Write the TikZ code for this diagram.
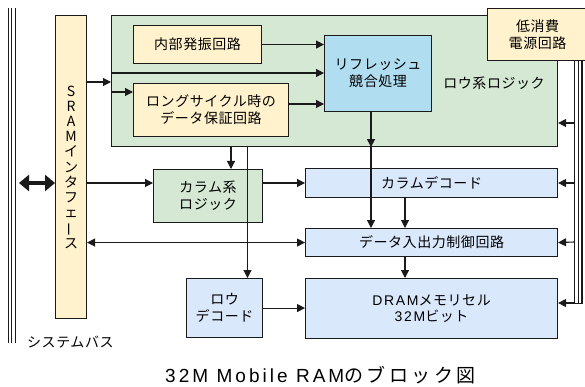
\documentclass[tikz,border=0pt]{standalone}
\usepackage{fontspec}
\setmainfont{Noto Sans CJK JP}[LetterSpace=4]
\newfontfamily\titlefont{Noto Sans CJK JP}[LetterSpace=18]
\newfontfamily\titlelat{Liberation Sans}[LetterSpace=16]
\newfontfamily\boxlat{Liberation Sans}[LetterSpace=12]
\usetikzlibrary{arrows.meta}
\definecolor{cyel}{HTML}{FFF2CC}
\definecolor{cgreen}{HTML}{D5E8D4}
\definecolor{cblue}{HTML}{DAE8FC}
\definecolor{crefr}{HTML}{B1DDF0}
\definecolor{cline}{HTML}{1A1A1A}
\begin{document}
\begin{tikzpicture}[x=1pt,y=-1pt,
  box/.style={draw=cline, line width=1.1pt, anchor=north west, inner sep=0pt, align=center,
    font=\fontsize{14}{17}\selectfont},
  yel/.style={box, fill=cyel},
  grn/.style={box, fill=cgreen},
  blu/.style={box, fill=cblue},
  arr/.style={draw=cline, line width=1.1pt, -{Triangle[length=8pt,width=8pt]}},
  darr/.style={draw=cline, line width=1.1pt, {Triangle[length=8pt,width=8pt]}-{Triangle[length=8pt,width=8pt]}},
  plain/.style={draw=cline, line width=1.1pt},
  bus/.style={draw=cline, line width=0.9pt},
  lbl/.style={font=\fontsize{14}{17}\selectfont, inner sep=0pt}
]
\useasboundingbox (0,0) rectangle (585,387);
\fill[white] (0,0) rectangle (585,387);

% system bus
\coordinate (busTop) at (11.7,8);
\coordinate (busBot) at (11.7,343);
\draw[bus] ([xshift=-3.4pt]busTop) -- ([xshift=-3.4pt]busBot);
\draw[bus] (busTop) -- (busBot);
\draw[bus] ([xshift=4pt]busTop) -- ([xshift=4pt]busBot);
\node[lbl, anchor=west] (buslbl) at (27,342) {システムバス};

% boxes
\node[yel, minimum width=31pt, minimum height=303pt, font=\fontsize{14}{15.2}\selectfont] (sram) at (55,15)
  {S\\R\\A\\M\\イ\\ン\\タ\\フ\\ェ\\\rotatebox[origin=c]{90}{ー}\\ス};
\node[grn, minimum width=446pt, minimum height=131pt] (row) at (111,15) {};
\node[lbl] (rowlbl) at (494,83) {ロウ系ロジック};
\node[yel, minimum width=128pt, minimum height=38pt] (osc) at (133,25) {内部発振回路};
\node[yel, minimum width=155pt, minimum height=53pt] (longc) at (133,83) {ロングサイクル時の\\データ保証回路};
\node[box, fill=crefr, minimum width=107pt, minimum height=76pt] (refr) at (324,35) {リフレッシュ\\競合処理};
\node[grn, minimum width=109pt, minimum height=53pt] (colL) at (153,169) {カラム系\\ロジック};
\node[blu, minimum width=76pt, minimum height=59pt] (rowD) at (186,278) {ロウ\\デコード};
\node[blu, minimum width=252pt, minimum height=29pt] (colD) at (305,168) {カラムデコード};
\node[blu, minimum width=252pt, minimum height=28pt] (dio) at (305,228) {データ入出力制御回路};
\node[blu, minimum width=252pt, minimum height=60pt, font=\fontsize{14}{16}\selectfont] (dram) at (305,278) {{\boxlat DRAM}メモリセル\\{\boxlat 32M}ビット};

% bus double arrow
\coordinate (busArr) at (19,183);
\draw[draw=cline, line width=3.4pt, {Triangle[length=10pt,width=16pt]}-{Triangle[length=10pt,width=16pt]}] (busArr) -- (sram.west |- busArr);

% connectors
\draw[arr] (sram.east |- 0,82) -- (row.west |- 0,82);
\draw[arr] (row.west |- 0,73) -- (refr.west |- 0,73);
\draw[arr] (row.west |- 0,92) -- (longc.west |- 0,92);
\draw[arr] (osc.east) -- (refr.west |- osc.east);
\draw[arr] (longc.east |- 0,104) -- (refr.west |- 0,104);
\coordinate (rfo) at (refr.south -| 371,0);
\draw[arr] (rfo) -- (row.south -| rfo);
\draw[arr] (row.south -| rfo) -- (dio.north -| rfo);
\draw[arr] (row.south -| 231,0) -- (colL.north -| 231,0);
\draw[arr] (row.south -| 247.5,0) -- (rowD.north -| 247.5,0);
\draw[arr] (sram.east |- 0,183) -- (colL.west |- 0,183);
\draw[arr] (colL.east |- 0,183) -- (colD.west |- 0,183);
\draw[darr] (sram.east |- dio.west) -- (dio.west);
\draw[arr] (rowD.east) -- (dram.west |- rowD.east);
\draw[arr] (colD.south -| 405,0) -- (dio.north -| 405,0);
\draw[arr] (dio.south -| 405,0) -- (dram.north -| 405,0);

% power
\node[yel, minimum width=100pt, minimum height=52pt] (pwr) at (487,8) {低消費\\電源回路};
\coordinate (pA) at (574.5,60);
\coordinate (pB) at (578.3,60);
\coordinate (pC) at (582,60);
\draw[bus] (pA) -- (574.5,303);
\draw[bus] (pB) -- (578.3,303);
\draw[line width=1.6pt, draw=cline] (pC) -- (582,303.5) -- (574,303.5);
\draw[arr] (574.5,123) -- (row.east |- 0,123);
\draw[arr] (574.5,183) -- (colD.east |- 0,183);
\draw[arr] (574.5,242) -- (dio.east);
\draw[arr] (574.5,303) -- (dram.east |- 0,303);

% title
\node[anchor=west, inner sep=0pt, font=\titlefont\fontsize{19}{21}\selectfont] (title) at (165,375) {{\titlelat 32M Mobile RAM}のブロック図};
\end{tikzpicture}
\end{document}
